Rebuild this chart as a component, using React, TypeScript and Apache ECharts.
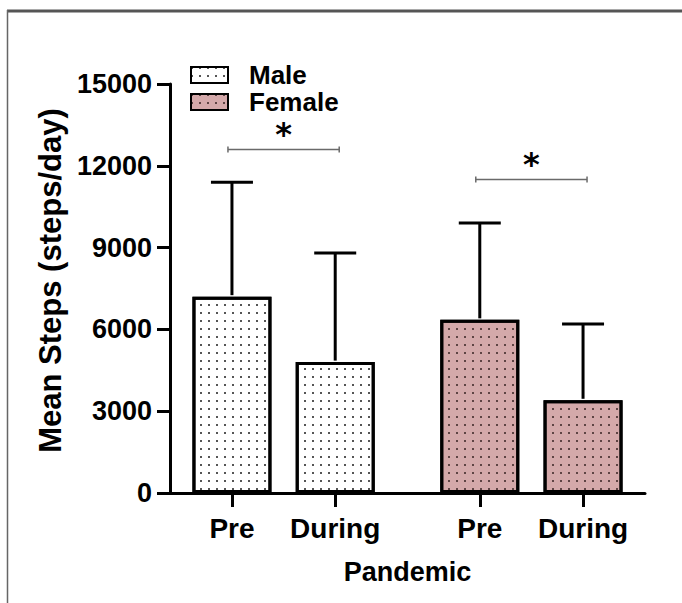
import React, { useEffect, useRef } from "react";
import * as echarts from "echarts";

const groups = ["Male", "Female"];
const periods = ["Pre", "During"];
const maleMeans = [7200, 4800];
const maleUpper = [11400, 8800];
const femaleMeans = [6350, 3400];
const femaleUpper = [9900, 6200];
const bracketLevels = [12600, 11500];
const significance = ["*", "*"];
const yTicks = [0, 3000, 6000, 9000, 12000, 15000];

const FONT = "'Liberation Sans', Arial, Helvetica, sans-serif";

export default function App() {
  const ref = useRef<HTMLDivElement>(null);
  useEffect(() => {
    document.body.style.margin = "0";
    const chart = echarts.init(ref.current!, null, { renderer: "svg" });

    // layout slot positions on the x value axis (group gap wider than in-group spacing)
    const pos = (g: number, i: number) => 3 + g * 12 + i * 5;
    const positions: number[] = [];
    const labels: Record<number, string> = {};
    groups.forEach((_, g) =>
      periods.forEach((p, i) => {
        positions.push(pos(g, i));
        labels[pos(g, i)] = p;
      })
    );

    const means = [maleMeans, femaleMeans];
    const uppers = [maleUpper, femaleUpper];
    const colors = ["#ffffff", "#d4a9aa"];
    const dotColors = ["#555555", "#5e4444"];

    const barSeries = groups.map((name, g) => ({
      name,
      type: "bar",
      barWidth: 79,
      barGap: "-100%",
      data: periods.map((_, i) => [pos(g, i), means[g][i]]),
      itemStyle: {
        color: colors[g],
        borderColor: "#000",
        borderWidth: 3,
        decal: {
          symbol: "rect",
          symbolSize: 1,
          color: dotColors[g],
          dashArrayX: [1.6, 5.1],
          dashArrayY: [1.6, 5.1],
        },
      },
      z: 2,
    }));

    const errData: number[][] = [];
    groups.forEach((_, g) =>
      periods.forEach((_, i) => errData.push([pos(g, i), means[g][i], uppers[g][i]]))
    );

    const bracketData = groups.map((_, g) => [pos(g, 0), pos(g, 1), bracketLevels[g], g]);

    const option: any = {
      animation: false,
      backgroundColor: "#fff",
      textStyle: { fontFamily: FONT },
      grid: { left: 170, right: 37, top: 84, bottom: 110 },
      legend: {
        orient: "vertical",
        left: 190,
        top: 62,
        padding: 0,
        itemWidth: 37,
        itemHeight: 16,
        itemGap: 1,
        icon: "rect",
        data: groups,
        textStyle: {
          fontSize: 26,
          fontWeight: "bold",
          color: "#000",
          fontFamily: FONT,
          padding: [0, 0, 0, 16],
          lineHeight: 26,
        },
      },
      xAxis: {
        type: "value",
        min: 0,
        max: 23,
        splitLine: { show: false },
        axisLine: { show: true, lineStyle: { color: "#000", width: 3 } },
        axisTick: {
          show: true,
          customValues: positions,
          length: 14,
          lineStyle: { color: "#000", width: 3 },
        },
        axisLabel: {
          customValues: positions,
          formatter: (v: number) => labels[v] ?? "",
          fontSize: 28,
          fontWeight: "bold",
          color: "#000",
          margin: 21,
          fontFamily: FONT,
        },
        name: "Pandemic",
        nameLocation: "middle",
        nameGap: 65,
        nameTextStyle: { fontSize: 27, fontWeight: "bold", color: "#000", fontFamily: FONT },
      },
      yAxis: {
        type: "value",
        min: 0,
        max: 15000,
        interval: 3000,
        splitLine: { show: false },
        axisLine: { show: true, lineStyle: { color: "#000", width: 3 } },
        axisTick: { show: true, length: 13, lineStyle: { color: "#000", width: 3 } },
        axisLabel: {
          fontSize: 27,
          fontWeight: "bold",
          color: "#000",
          margin: 18,
          fontFamily: FONT,
          formatter: (v: number) => (yTicks.includes(v) ? String(v) : ""),
        },
        name: "Mean Steps (steps/day)",
        nameLocation: "middle",
        nameGap: 100,
        nameTextStyle: {
          fontSize: 31,
          fontWeight: "bold",
          color: "#000",
          fontFamily: FONT,
          padding: [0, 0, 0, 16],
        },
      },
      graphic: [
        {
          type: "line",
          shape: { x1: 7, y1: 11, x2: 682, y2: 11 },
          style: { stroke: "#555", lineWidth: 3 },
          z: 100,
        },
        {
          type: "line",
          shape: { x1: 7.5, y1: 10, x2: 7.5, y2: 603 },
          style: { stroke: "#666", lineWidth: 1.5 },
          z: 100,
        },
      ],
      series: [
        ...barSeries,
        {
          type: "custom",
          name: "err",
          data: errData,
          encode: { x: 0, y: [1, 2] },
          z: 3,
          renderItem: (params: any, api: any) => {
            const x = api.value(0);
            const p0 = api.coord([x, api.value(1)]);
            const p1 = api.coord([x, api.value(2)]);
            return {
              type: "group",
              children: [
                {
                  type: "line",
                  shape: { x1: p0[0], y1: p0[1] - 1.5, x2: p1[0], y2: p1[1] },
                  style: { stroke: "#000", lineWidth: 3 },
                },
                {
                  type: "line",
                  shape: { x1: p1[0] - 21, y1: p1[1], x2: p1[0] + 21, y2: p1[1] },
                  style: { stroke: "#000", lineWidth: 3 },
                },
              ],
            };
          },
        },
        {
          type: "custom",
          name: "sig",
          data: bracketData,
          encode: { x: [0, 1], y: 2 },
          z: 3,
          renderItem: (params: any, api: any) => {
            const a = api.coord([api.value(0), api.value(2)]);
            const b = api.coord([api.value(1), api.value(2)]);
            const y = a[1];
            const x1 = a[0] - 4;
            const x2 = b[0] + 4;
            const stroke = { stroke: "#6a6a6a", lineWidth: 1.5 };
            return {
              type: "group",
              children: [
                { type: "line", shape: { x1, y1: y, x2, y2: y }, style: stroke },
                { type: "line", shape: { x1, y1: y - 3, x2: x1, y2: y + 3 }, style: stroke },
                { type: "line", shape: { x1: x2, y1: y - 3, x2, y2: y + 3 }, style: stroke },
                {
                  type: "text",
                  style: {
                    text: significance[api.value(3)],
                    x: (x1 + x2) / 2,
                    y: y - 15,
                    align: "center",
                    verticalAlign: "middle",
                    font: `bold 32px 'DejaVu Sans', sans-serif`,
                    fill: "#000",
                  },
                },
              ],
            };
          },
        },
      ],
    };
    chart.setOption(option);
    return () => chart.dispose();
  }, []);
  return <div ref={ref} style={{ width: 682, height: 603 }} />;
}
